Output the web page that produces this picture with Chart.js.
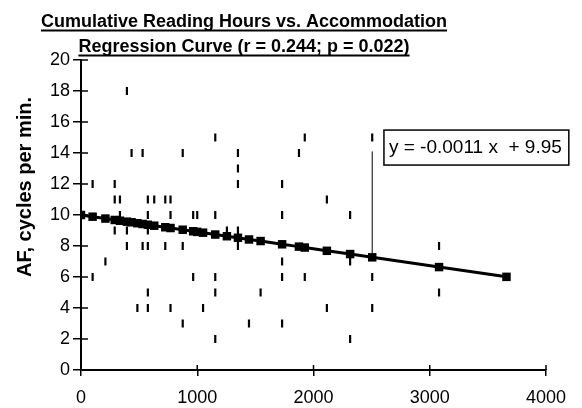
<!DOCTYPE html>
<html>
<head>
<meta charset="utf-8">
<script src="https://cdn.jsdelivr.net/npm/chart.js@4.4.0/dist/chart.umd.min.js"></script>
<style>
html, body { margin: 0; padding: 0; background: #fff; }
</style>
</head>
<body>
<canvas id="chart" width="582" height="408"></canvas>
<script>
// observations: cumulative reading hours vs AF (cycles per min)
const readingHours = [
    0, 100, 100, 210, 290, 290, 290, 335, 335, 395, 395, 395, 435, 485,
    530, 530, 575, 575, 575, 575, 575, 575, 630, 725, 725, 770, 770, 770,
    875, 875, 875, 965, 965, 1000, 1050, 1155, 1155, 1155, 1155, 1155,
    1255, 1350, 1350, 1350, 1350, 1350, 1445, 1545, 1730, 1730, 1730, 1730, 1730,
    1875, 1925, 1925, 2115, 2115, 2315, 2315, 2315, 2505, 2505, 2505,
    3080, 3080, 3660
];
const afValues = [
    10, 12, 6, 7, 12, 11, 9, 11, 10, 18, 9, 8, 14, 4,
    14, 8, 11, 10, 9, 8, 5, 4, 11, 11, 8, 11, 10, 4,
    14, 8, 3, 10, 6, 10, 4, 15, 10, 6, 5, 2,
    9, 14, 13, 12, 9, 8, 3, 5, 12, 10, 7, 6, 3,
    14, 15, 6, 11, 4, 10, 7, 2, 15, 6, 4,
    8, 5, 6
];

// regression curve, one marker per distinct hours value
const fitHours = [
    0, 100, 210, 290, 335, 395, 435, 485, 530, 575, 630, 725, 770, 875, 965,
    1000, 1050, 1155, 1255, 1350, 1445, 1545, 1730, 1875, 1925, 2115, 2315,
    2505, 3080, 3660
];
const fitValues = [
    10.00, 9.89, 9.77, 9.68, 9.63, 9.57, 9.53, 9.47, 9.42, 9.37, 9.31, 9.21, 9.16, 9.05, 8.95,
    8.91, 8.86, 8.74, 8.63, 8.53, 8.42, 8.32, 8.11, 7.96, 7.90, 7.69, 7.48,
    7.27, 6.64, 6.01
];

const xTicks = [0, 1000, 2000, 3000, 4000];
const yTicks = [0, 2, 4, 6, 8, 10, 12, 14, 16, 18, 20];

const titleLines = [
    'Cumulative Reading Hours vs. Accommodation',
    'Regression Curve (r = 0.244; p = 0.022)'
];
const yTitle = 'AF, cycles per min.';
const equationText = 'y = -0.0011 x  + 9.95';

const FONT = '"Liberation Sans", Arial, sans-serif';

// draws the underlined title, rotated y title, inner tick marks, equation box
const decor = {
    id: 'decor',
    afterDatasetsDraw(chart) {
        const ctx = chart.ctx;
        const xs = chart.scales.x, ys = chart.scales.y;
        ctx.save();
        ctx.strokeStyle = '#000';
        ctx.fillStyle = '#000';

        // leader line from fitted point up to the label
        const lx = xs.getPixelForValue(2505);
        ctx.lineWidth = 1;
        ctx.beginPath();
        ctx.moveTo(lx, ys.getPixelForValue(14.1));
        ctx.lineTo(lx, ys.getPixelForValue(7.27));
        ctx.stroke();

        // equation box
        ctx.font = '19px ' + FONT;
        const w = ctx.measureText(equationText).width;
        const bx = xs.getPixelForValue(2606);
        const by = ys.getPixelForValue(15.48);
        ctx.lineWidth = 1.5;
        ctx.strokeRect(bx, by, w + 12, 35);
        ctx.textBaseline = 'middle';
        ctx.fillText(equationText, bx + 5, by + 18);
        ctx.restore();
    },
    afterDraw(chart) {
        const ctx = chart.ctx;
        const xs = chart.scales.x, ys = chart.scales.y;
        ctx.save();
        ctx.strokeStyle = '#000';
        ctx.fillStyle = '#000';

        // tick marks crossing into the plot
        ctx.lineWidth = 1.5;
        yTicks.forEach(v => {
            const py = ys.getPixelForValue(v);
            ctx.beginPath();
            ctx.moveTo(xs.left, py);
            ctx.lineTo(xs.left + 7, py);
            ctx.stroke();
        });
        xTicks.forEach(v => {
            const px = xs.getPixelForValue(v);
            ctx.beginPath();
            ctx.moveTo(px, ys.bottom);
            ctx.lineTo(px, ys.bottom - 5);
            ctx.stroke();
        });

        // title, bold + underlined
        ctx.font = 'bold 18px ' + FONT;
        ctx.textAlign = 'center';
        ctx.textBaseline = 'alphabetic';
        const cx = 244;
        const baselines = [27, 52];
        titleLines.forEach((t, i) => {
            ctx.fillText(t, cx, baselines[i]);
            const tw = ctx.measureText(t).width;
            ctx.fillRect(cx - tw / 2, baselines[i] + 2.5, tw, 2);
        });

        // y axis title
        ctx.font = 'bold 20px ' + FONT;
        ctx.translate(25, 187);
        ctx.rotate(-Math.PI / 2);
        ctx.textBaseline = 'middle';
        ctx.fillText(yTitle, 0, 0);
        ctx.restore();
    }
};

new Chart(document.getElementById('chart').getContext('2d'), {
    type: 'scatter',
    data: {
        datasets: [
            {
                label: 'AF',
                data: readingHours.map((h, i) => ({ x: h, y: afValues[i] })),
                pointStyle: 'line',
                rotation: 90,
                pointRadius: 4,
                borderWidth: 2.2,
                borderColor: '#000',
                backgroundColor: '#000',
                showLine: false,
                order: 0
            },
            {
                label: 'Regression',
                type: 'line',
                data: fitHours.map((h, i) => ({ x: h, y: fitValues[i] })),
                pointStyle: 'rect',
                pointRadius: 6,
                pointBorderWidth: 0,
                pointBackgroundColor: '#000',
                borderColor: '#000',
                borderWidth: 3,
                tension: 0,
                fill: false,
                order: 1
            }
        ]
    },
    options: {
        responsive: false,
        animation: false,
        devicePixelRatio: 1,
        layout: { padding: { top: 60, right: 36, left: 0, bottom: 0 } },
        plugins: {
            legend: { display: false },
            tooltip: { enabled: false },
            title: { display: false }
        },
        scales: {
            x: {
                type: 'linear',
                min: 0,
                max: 4000,
                afterBuildTicks: s => { s.ticks = xTicks.map(v => ({ value: v })); },
                afterFit: s => { s.height = 38; },
                grid: { drawOnChartArea: false, drawTicks: true, tickLength: 6, color: '#000', lineWidth: 1.5 },
                border: { color: '#000', width: 2 },
                ticks: { color: '#000', padding: 11, maxRotation: 0, font: { family: FONT, size: 18 }, callback: v => String(v) }
            },
            y: {
                min: 0,
                max: 20,
                afterBuildTicks: s => { s.ticks = yTicks.map(v => ({ value: v })); },
                afterFit: s => { s.width = 81; },
                grid: { drawOnChartArea: false, drawTicks: true, tickLength: 8, color: '#000', lineWidth: 1.5 },
                border: { color: '#000', width: 2 },
                ticks: { color: '#000', padding: 3, font: { family: FONT, size: 18 }, callback: v => String(v) }
            }
        }
    },
    plugins: [decor]
});
</script>
</body>
</html>
